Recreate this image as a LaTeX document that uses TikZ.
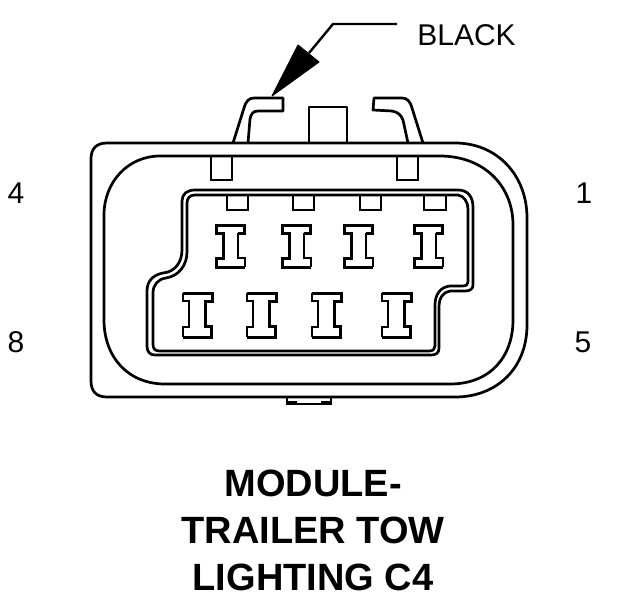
\documentclass[tikz,border=0pt]{standalone}
\usepackage{fontspec}
\setmainfont{Liberation Sans}
\tikzset{
  px/.style={x=1pt,y=-1pt},
  outline/.style={draw=black,line width=2.7pt,line join=round},
  thin outline/.style={draw=black,line width=2.2pt,line join=miter},
  pinline/.style={draw=black,line width=2.2pt,line join=miter},
  label/.style={font=\fontsize{30}{36}\selectfont,inner sep=0pt,text=black},
  titletext/.style={font=\fontsize{38}{47}\bfseries\selectfont,inner sep=0pt,align=center,text=black},
  leader/.style={draw=black,line width=2.4pt},
  tip/.style={fill=black,draw=black,line width=1pt,line join=round}
}
\newcommand{\upin}[1]{%
  \begin{scope}[shift={(#1,224)}]
    \draw[pinline,line width=3pt] (-7,22) -- (-7,9) -- (-14,9) -- (-14,1) -- (14,1) -- (14,9) -- (8,9);
    \draw[pinline] (8,9) -- (8,34) -- (15,34) -- (15,43);
    \draw[pinline,line width=3pt] (15,43) -- (-14,43) -- (-14,34) -- (-7,34) -- (-7,22);
  \end{scope}}
\newcommand{\lpin}[1]{%
  \begin{scope}[shift={(#1,292)}]
    \draw[pinline] (-8,22) -- (-8,9) -- (-14,9) -- (-14,1);
    \draw[pinline,line width=3pt] (-14,1) -- (15,1) -- (15,9) -- (8,9) -- (8,34) -- (14,34) -- (14,45) -- (-14,45);
    \draw[pinline] (-14,45) -- (-14,35) -- (-8,35) -- (-8,22);
  \end{scope}}
\begin{document}
\begin{tikzpicture}[px]
\useasboundingbox (0,0) rectangle (624,600);
\fill[white] (0,0) rectangle (624,600);
% shell
\draw[outline] (107,143) -- (455,143) .. controls (497,143) and (527,175) .. (527,218)
  -- (527,325) .. controls (527,368) and (497,397) .. (455,397) -- (107,397)
  .. controls (96,397) and (91,391) .. (91,381) -- (91,159) .. controls (91,149) and (96,143) .. (107,143) -- cycle;
% inner ring
\draw[outline] (160,156) -- (440,156) .. controls (483,156) and (513,185) .. (513,225)
  -- (513,320) .. controls (513,357) and (490,384) .. (450,384) -- (165,384)
  .. controls (128,384) and (104,357) .. (104,320) -- (104,215) .. controls (104,182) and (128,156) .. (160,156) -- cycle;
% cavity, outer
\draw[outline] (195,190) -- (458,190) .. controls (468,190) and (473,197) .. (473,207)
  -- (473,285) .. controls (473,289) and (470,291) .. (465,291) -- (450,291)
  .. controls (443,292) and (439,298) .. (439,307) -- (439,348) .. controls (439,353) and (436,355) .. (431,355)
  -- (155,355) .. controls (150,355) and (147,352) .. (147,346) -- (147,291)
  .. controls (147,281) and (153,275) .. (163,273) .. controls (175,272) and (182,262) .. (182,250)
  -- (182,201) .. controls (182,194) and (187,190) .. (195,190) -- cycle;
% cavity, inner
\draw[outline] (195,195) -- (458,195) .. controls (464,196) and (468,202) .. (468,209)
  -- (468,282) .. controls (468,285) and (466,286) .. (462,286) -- (450,286)
  .. controls (440,287) and (435,295) .. (435,305) -- (435,346) .. controls (435,349) and (433,351) .. (429,351)
  -- (160,351) .. controls (155,351) and (153,349) .. (153,344) -- (153,293)
  .. controls (153,285) and (158,279) .. (166,278) .. controls (179,276) and (187,265) .. (187,252)
  -- (187,203) .. controls (187,198) and (190,195) .. (195,195) -- cycle;
% tabs on the ring
\draw[thin outline] (211,156) -- (211,180) -- (232,180) -- (232,156);
\draw[thin outline] (397,156) -- (397,180) -- (418,180) -- (418,156);
% tabs in the cavity
\draw[thin outline] (227,195) -- (227,210) -- (248,210) -- (248,195);
\draw[thin outline] (293,195) -- (293,210) -- (314,210) -- (314,195);
\draw[thin outline] (360,195) -- (360,210) -- (381,210) -- (381,195);
\draw[thin outline] (424,195) -- (424,210) -- (446,210) -- (446,195);
% top latches
\draw[outline] (233,143) -- (244,108) .. controls (246,101) and (249,98) .. (254,98) -- (283,98) -- (283,111) -- (258,111)
  .. controls (253,111) and (251,114) .. (250,119) -- (248,143);
\draw[outline] (423,143) -- (412,108) .. controls (410,101) and (407,98) .. (402,98) -- (374,98) -- (373,110) -- (392,111)
  .. controls (398,112) and (401,115) .. (403,120) -- (408,143);
\draw[outline] (309,143) -- (309,107) -- (347,107) -- (347,143);
% bottom clip
\draw[thin outline] (287,398) -- (287,404) -- (331,404) -- (331,398);
\fill[black] (287,401) rectangle (297,405);
\fill[black] (321,401) rectangle (331,405);
% pins
\upin{230}\upin{296}\upin{358}\upin{428}
\lpin{197}\lpin{261}\lpin{326}\lpin{396}
% labels
\node[label] (black) at (466.5,35) {BLACK};
\node[label] (n4) at (16,193) {4};
\node[label] (n1) at (584,193) {1};
\node[label] (n8) at (16,342) {8};
\node[label] (n5) at (583,342) {5};
\node[titletext,anchor=north] (title) at (313,470) {MODULE-\\TRAILER TOW\\LIGHTING C4};
% leader and arrowhead
\coordinate (lstart) at (397,24);
\coordinate (lbend) at (333,24);
\coordinate (lend) at (309,53);
\coordinate (atip) at (272,96);
\draw[leader] (lstart) -- (lbend) -- (lend);
\fill[tip] (atip) -- (298,45) -- (319,62) -- cycle;
\end{tikzpicture}
\end{document}
